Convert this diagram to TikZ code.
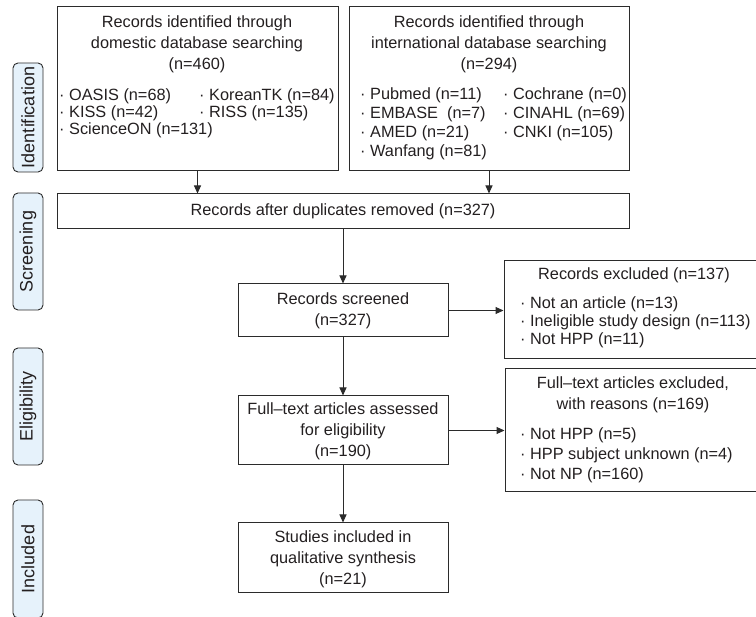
\documentclass[tikz,border=0pt]{standalone}
\usepackage{fontspec}
\setmainfont{Liberation Sans}
\usetikzlibrary{arrows.meta}
\definecolor{ln}{HTML}{2B2B2B}
\definecolor{txt}{HTML}{231F20}
\definecolor{side}{HTML}{E6F2FB}
\begin{document}
\begin{tikzpicture}[x=1pt,y=-1pt,
  box/.style={draw=ln, line width=1pt, inner sep=0pt, rectangle},
  sidebox/.style={draw=ln, line width=0.9pt, fill=side, rounded corners=5pt, minimum height=30pt, inner sep=0pt, text=txt, font=\fontsize{18}{18}\selectfont, rotate=90},
  lbl/.style={text=txt, font=\fontsize{16.3}{21}\selectfont, inner sep=0pt, align=center},
  item/.style={text=txt, font=\fontsize{16.3}{19}\selectfont, inner sep=0pt, anchor=west},
  arr/.style={draw=ln, line width=1pt, -{Triangle[length=8pt,width=7pt]}}
]
\useasboundingbox (0,0) rectangle (756,617);

% side labels
\node[sidebox, minimum width=109pt] (sid) at (28,117.5) {Identification};
\node[sidebox, minimum width=117pt] (sscr) at (28,251.5) {Screening};
\node[sidebox, minimum width=117pt] (sel) at (28,406.5) {Eligibility};
\node[sidebox, minimum width=118pt] (sinc) at (28,559) {Included};

% boxes
\node[box, minimum width=281pt, minimum height=164pt] (dom) at (197.5,89) {};
\node[box, minimum width=280pt, minimum height=164pt] (intl) at (489,89) {};
\node[box, minimum width=572pt, minimum height=35pt] (dup) at (343,211.5) {};
\node[box, minimum width=210pt, minimum height=53pt] (scr) at (343,310.5) {};
\node[box, minimum width=256pt, minimum height=98pt] (exa) at (632,310) {};
\node[box, minimum width=210pt, minimum height=69pt] (ft) at (343,430.5) {};
\node[box, minimum width=255pt, minimum height=123pt] (exb) at (632.5,430.5) {};
\node[box, minimum width=210pt, minimum height=70pt] (inc) at (343,558) {};

% domestic text
\node[lbl] (domt) at (197,44) {Records identified through\\domestic database searching\\(n=460)};
\node[item] (d1) at (59,96) {· OASIS (n=68)};
\node[item] (d2) at (59,113) {· KISS (n=42)};
\node[item] (d3) at (59,130) {· ScienceON (n=131)};
\node[item] (d4) at (199,96) {· KoreanTK (n=84)};
\node[item] (d5) at (199,113) {· RISS (n=135)};

% international text
\node[lbl] (intt) at (489,44) {Records identified through\\international database searching\\(n=294)};
\node[item] (i1) at (360,95) {· Pubmed (n=11)};
\node[item] (i2) at (360,114) {· EMBASE\ \ (n=7)};
\node[item] (i3) at (360,133) {· AMED (n=21)};
\node[item] (i4) at (360,152) {· Wanfang (n=81)};
\node[item] (i5) at (503,95) {· Cochrane (n=0)};
\node[item] (i6) at (503,114) {· CINAHL (n=69)};
\node[item] (i7) at (503,133) {· CNKI (n=105)};

% central texts
\node[lbl] (dupt) at (dup.center) {Records after duplicates removed (n=327)};
\node[lbl] (scrt) at (343,311) {Records screened\\(n=327)};
\node[lbl] (ftt) at (343,431) {Full–text articles assessed\\for eligibility\\(n=190)};
\node[lbl] (inct) at (343,559) {Studies included in\\qualitative synthesis\\(n=21)};

% excluded 1
\node[lbl] (exat) at (634,275) {Records excluded (n=137)};
\node[item] (e1) at (520,304) {· Not an article (n=13)};
\node[item] (e2) at (520,322) {· Ineligible study design (n=113)};
\node[item] (e3) at (520,340) {· Not HPP (n=11)};

% excluded 2
\node[lbl] (exbt) at (633,395) {Full–text articles excluded,\\with reasons (n=169)};
\node[item] (f1) at (520,435) {· Not HPP (n=5)};
\node[item] (f2) at (520,455) {· HPP subject unknown (n=4)};
\node[item] (f3) at (520,475) {· Not NP (n=160)};

% arrows
\draw[arr] (dom.south) -- (dom.south |- dup.north);
\draw[arr] (intl.south) -- (intl.south |- dup.north);
\draw[arr] (dup.south -| scr.north) -- (scr.north);
\draw[arr] (scr.east) -- (scr.east -| exa.west);
\draw[arr] (scr.south) -- (ft.north);
\draw[arr] (ft.east) -- (ft.east -| exb.west);
\draw[arr] (ft.south) -- (inc.north);
\end{tikzpicture}
\end{document}
